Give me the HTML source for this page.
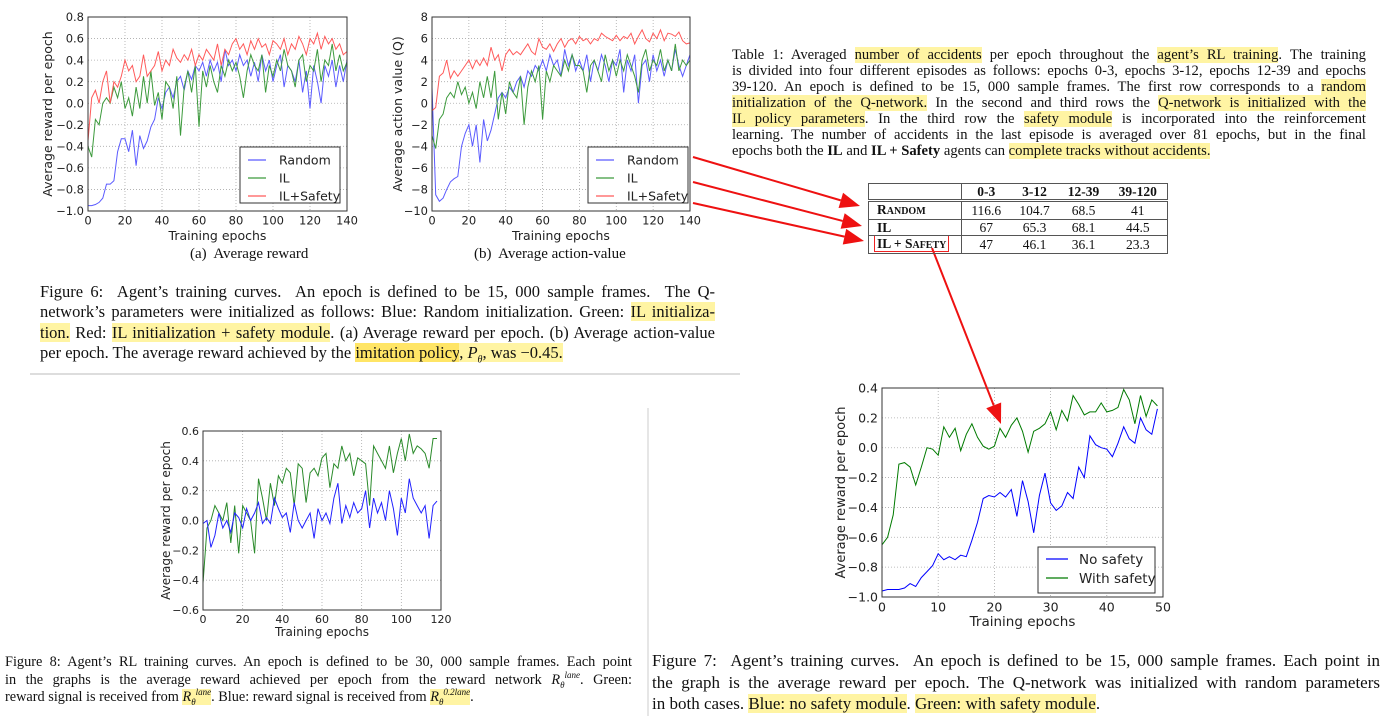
<!DOCTYPE html>
<html><head><meta charset="utf-8">
<style>
body{margin:0;width:1392px;height:727px;background:#fff;position:relative;overflow:hidden;font-family:"Liberation Serif",serif;color:#111}
.cap{position:absolute;font-family:"Liberation Serif",serif}
.cap div{text-align:justify;text-align-last:justify;white-space:nowrap;overflow:visible}
.cap div.last{text-align-last:left}
.cap sub,.cap sup{line-height:0}
.hl{background:#fff4a3}
.hl2{background:#ffe566}
svg text{font-family:"DejaVu Sans",sans-serif;fill:#222}
table{border-collapse:collapse;position:absolute;font-family:"Liberation Serif",serif;font-size:13.5px;table-layout:fixed}
td{padding:0;text-align:center;height:15px;line-height:15px;overflow:hidden;white-space:nowrap}
</style></head><body>
<svg id="s" width="1392" height="727" style="position:absolute;left:0;top:0">
<line x1="30" y1="374" x2="740" y2="374" stroke="#bbb"/>
<line x1="648" y1="408" x2="648" y2="716" stroke="#ccc"/>
</svg>

<div class="cap" style="left:40px;top:282px;width:675px;font-size:16.5px;line-height:20.4px">
<div>Figure 6:&nbsp; Agent’s training curves.&nbsp; An epoch is defined to be 15, 000 sample frames.&nbsp; The Q-</div>
<div>network’s parameters were initialized as follows: Blue: Random initialization. Green: <span class="hl">IL initializa-</span></div>
<div><span class="hl">tion.</span> Red: <span class="hl">IL initialization + safety module</span>. (a) Average reward per epoch. (b) Average action-value</div>
<div class="last">per epoch. The average reward achieved by the <span class="hl2">imitation policy</span><span class="hl">, <i>P<sub style="font-size:10px">θ</sub></i>, was −0.45.</span></div>
</div>
<div class="cap" style="left:190px;top:246px;font-size:15px">(a)&nbsp; Average reward</div>
<div class="cap" style="left:474px;top:246px;font-size:15px">(b)&nbsp; Average action-value</div>

<div class="cap" style="left:732px;top:47px;width:634px;font-size:14.6px;line-height:16px">
<div>Table 1: Averaged <span class="hl">number of accidents</span> per epoch throughout the <span class="hl">agent’s RL training</span>. The training</div>
<div>is divided into four different episodes as follows: epochs 0-3, epochs 3-12, epochs 12-39 and epochs</div>
<div>39-120. An epoch is defined to be 15, 000 sample frames. The first row corresponds to a <span class="hl">random</span></div>
<div><span class="hl">initialization of the Q-network.</span> In the second and third rows the <span class="hl">Q-network is initialized with the</span></div>
<div><span class="hl">IL policy parameters</span>. In the third row the <span class="hl">safety module</span> is incorporated into the reinforcement</div>
<div>learning. The number of accidents in the last episode is averaged over 81 epochs, but in the final</div>
<div class="last">epochs both the <b>IL</b> and <b>IL + Safety</b> agents can <span class="hl">complete tracks without accidents.</span></div>
</div>

<table style="left:868px;top:183px;width:299px;border:1px solid #555">
<colgroup><col style="width:93px"><col style="width:49px"><col style="width:48px"><col style="width:50px"><col style="width:59px"></colgroup>
<tr><td style="border-right:1px solid #555"></td><td><b>0-3</b></td><td><b>3-12</b></td><td><b>12-39</b></td><td><b>39-120</b></td></tr>
</table>
<table style="left:868px;top:201px;width:299px;border:1px solid #555">
<colgroup><col style="width:93px"><col style="width:49px"><col style="width:48px"><col style="width:50px"><col style="width:59px"></colgroup>
<tr style="border-bottom:1px solid #555"><td style="border-right:1px solid #555;text-align:left;padding-left:8px"><b>R<span style="font-size:10px">ANDOM</span></b></td><td>116.6</td><td>104.7</td><td>68.5</td><td>41</td></tr>
<tr style="border-bottom:1px solid #555"><td style="border-right:1px solid #555;text-align:left;padding-left:8px"><b>IL</b></td><td>67</td><td>65.3</td><td>68.1</td><td>44.5</td></tr>
<tr><td style="border-right:1px solid #555;text-align:left;padding-left:5px"><b style="border:1px solid #e22;padding:0 2px">IL + S<span style="font-size:10px">AFETY</span></b></td><td>47</td><td>46.1</td><td>36.1</td><td>23.3</td></tr>
</table>

<div class="cap" style="left:652px;top:650px;width:728px;font-size:17px;line-height:21.5px">
<div>Figure 7:&nbsp; Agent’s training curves.&nbsp; An epoch is defined to be 15, 000 sample frames. Each point in</div>
<div>the graph is the average reward per epoch. The Q-network was initialized with random parameters</div>
<div class="last">in both cases. <span class="hl">Blue: no safety module</span>. <span class="hl">Green: with safety module</span>.</div>
</div>

<div class="cap" style="left:5px;top:654px;width:627px;font-size:14.3px;line-height:17.5px">
<div>Figure 8: Agent’s RL training curves. An epoch is defined to be 30, 000 sample frames. Each point</div>
<div>in the graphs is the average reward achieved per epoch from the reward network <i>R<sub style="font-size:9px">θ</sub><sup style="font-size:9px">lane</sup></i>. Green:</div>
<div class="last">reward signal is received from <span class="hl"><i>R<sub style="font-size:9px">θ</sub><sup style="font-size:9px">lane</sup></i></span>. Blue: reward signal is received from <span class="hl"><i>R<sub style="font-size:9px">θ</sub><sup style="font-size:9px">0.2lane</sup></i></span>.</div>
</div>

<script>
// ---- data ----
const fig6aRandom = [-0.95,-0.95,-0.94,-0.92,-0.88,-0.75,-0.75,-0.72,-0.45,-0.33,-0.33,-0.45,-0.25,-0.58,-0.3,-0.42,-0.35,-0.22,-0.15,0.05,-0.05,0.1,0.15,0.05,0.2,0.25,0.12,0.3,0.22,0.35,0.3,0.38,0.25,0.4,0.3,0.38,0.2,0.5,0.35,0.4,0.3,0.45,0.35,0.4,0.25,0.38,0.2,0.45,0.3,0.4,0.2,0.35,0.45,0.15,0.35,0.3,0.2,0.4,0.1,0.3,-0.05,0.35,0.2,0.0,0.35,0.25,0.4,0.15,0.35,0.2,0.4];
const fig6aIL = [-0.4,-0.5,-0.15,-0.2,0.0,0.05,0.0,0.15,0.05,0.2,-0.05,0.05,-0.12,0.15,-0.05,0.25,0.0,0.3,-0.02,0.1,-0.15,0.2,0.15,-0.05,0.25,-0.3,0.15,0.3,0.1,0.35,-0.22,0.3,0.15,0.35,0.2,0.1,0.35,0.25,0.4,0.3,0.38,0.25,0.05,0.3,0.45,0.35,0.3,0.45,0.1,0.35,0.25,0.4,0.3,0.5,0.35,0.3,0.15,0.4,0.45,0.2,0.35,0.3,0.5,0.2,0.4,0.35,0.55,0.3,0.45,0.3,0.38];
const fig6aSafety = [-0.35,0.05,0.12,0.0,0.2,0.3,0.0,0.2,0.15,0.25,0.4,0.3,0.35,0.2,0.25,0.45,0.25,0.3,0.35,0.48,0.3,0.4,0.35,0.5,0.42,0.38,0.45,0.4,0.5,0.35,0.45,0.4,0.5,0.45,0.4,0.55,0.35,0.5,0.45,0.55,0.6,0.5,0.55,0.45,0.58,0.5,0.6,0.52,0.55,0.45,0.58,0.55,0.5,0.6,0.45,0.55,0.5,0.62,0.55,0.45,0.6,0.55,0.65,0.5,0.62,0.55,0.6,0.5,0.55,0.45,0.48];
const fig6bRandom = [1.5,-8.5,-9.1,-8.8,-8,-7.3,-7,-6.8,-4,-2.8,-2,-4,-2,-5.5,-1.5,-3.5,-2.5,-1,0.5,1,0.5,1.5,1,2,2.5,1.5,3,2.5,3.5,3,4,3,4.5,3.5,4,2.5,5,3.5,4.5,3,4,3,4.5,2,4,3,4.5,3.5,2,4,3.5,5,1,4,3,4.5,0,3.5,4,2,4.5,3,4,2.5,4,3,5,3.5,2.5,3.5,4.5];
const fig6bIL = [-3,-4.2,-1.5,-1,0.5,1,0.5,2,0.8,1.5,0,1,-0.5,2,0.5,2.5,0.5,3,-1.5,1,-1,2,1,0.5,2.5,-2,1.5,3,2,3.5,-1.5,3,2,3.5,3,2.5,4,3,4.5,3.5,3.5,3,1,3.5,4,3,2,4.5,3,4,2.5,4,3,4.5,3.5,2.5,1,4,5,3,4,3.5,5,3,4,3,5.5,3,4,3.5,4];
const fig6bSafety = [-0.7,-0.4,2.5,2.8,4,2.3,3,2.5,3,3.5,4,3.2,4,3.5,4.2,3.5,5.2,4,4.5,3,4.5,5,4.5,4.8,4.5,5,5.5,4.8,4.5,6,5.2,5,5.5,4.8,5.5,6,5.2,5.8,6,5.5,6.2,5.8,6,5.5,6,5.8,6.5,6.2,6,5.8,6.3,5.8,6.2,6,6.5,5.5,6.2,6.8,6,5.7,6.5,6,6.8,5.8,6.5,6.4,6.2,6.6,5.8,5.5,5.6];
const fig7NoSafety = [-0.96,-0.95,-0.95,-0.95,-0.94,-0.91,-0.93,-0.87,-0.83,-0.79,-0.71,-0.75,-0.73,-0.75,-0.72,-0.73,-0.62,-0.5,-0.34,-0.32,-0.33,-0.3,-0.33,-0.28,-0.46,-0.22,-0.36,-0.57,-0.32,-0.17,-0.37,-0.42,-0.39,-0.3,-0.34,-0.13,-0.2,0.08,0.02,0.0,-0.01,-0.06,0.03,0.14,0.06,0.03,0.2,0.12,0.09,0.26];
const fig7WithSafety = [-0.65,-0.6,-0.45,-0.11,-0.1,-0.13,-0.25,-0.13,0.0,-0.01,-0.05,0.14,0.07,0.13,-0.02,0.09,0.16,0.07,0.01,-0.01,0.01,0.13,0.07,0.15,0.2,0.11,-0.03,0.11,0.13,0.16,0.24,0.12,0.25,0.18,0.35,0.29,0.22,0.24,0.24,0.3,0.24,0.25,0.27,0.39,0.32,0.16,0.35,0.21,0.32,0.28];
const fig8Lane = [-0.42,-0.05,0.0,0.1,0.05,0.0,0.12,-0.15,0.1,-0.22,0.1,0.05,0.0,-0.22,0.28,0.15,0.0,0.25,0.1,0.3,0.25,0.35,0.32,0.1,0.38,0.35,0.12,0.32,0.35,0.3,0.42,0.45,0.22,0.38,0.35,0.5,0.4,0.45,0.3,0.42,0.4,0.38,0.1,0.5,0.45,0.4,0.35,0.5,0.32,0.45,0.55,0.4,0.58,0.45,0.5,0.48,0.45,0.35,0.55,0.55];
const fig8Lane02 = [-0.02,0.0,-0.18,-0.1,0.05,-0.05,0.0,-0.08,0.05,0.02,-0.05,0.08,0.0,0.05,0.12,-0.02,0.02,-0.02,0.15,0.08,0.02,0.05,-0.08,0.12,0.0,-0.05,0.0,0.05,-0.12,0.08,0.0,0.05,-0.02,0.15,0.25,-0.02,0.1,0.02,0.12,0.05,0.08,0.2,-0.05,0.15,0.05,0.12,0.0,0.2,0.08,-0.1,0.15,0.05,0.28,0.15,0.1,0.05,0.1,-0.12,0.1,0.13];
const fig6aYTicks = [-1.0,-0.8,-0.6,-0.4,-0.2,0.0,0.2,0.4,0.6,0.8];
const fig6bYTicks = [-10,-8,-6,-4,-2,0,2,4,6,8];
const fig6XTicks = [0,20,40,60,80,100,120,140];
const fig7YTicks = [-1.0,-0.8,-0.6,-0.4,-0.2,0.0,0.2,0.4];
const fig7XTicks = [0,10,20,30,40,50];
const fig8YTicks = [-0.6,-0.4,-0.2,0.0,0.2,0.4,0.6];
const fig8XTicks = [0,20,40,60,80,100,120];

const NS='http://www.w3.org/2000/svg';
const svg=document.getElementById('s');
function mk(tag,attrs,parent){const e=document.createElementNS(NS,tag);for(const k in attrs)e.setAttribute(k,attrs[k]);(parent||svg).appendChild(e);return e;}
function fmtN(v,d){return (v<0?'\u2212':'')+Math.abs(v).toFixed(d);}

function chart(o){
  const g=mk('g',{});
  
  
  const sx=v=>o.L+(v-o.xmin)/(o.xmax-o.xmin)*(o.R-o.L);
  const sy=v=>o.B-(v-o.ymin)/(o.ymax-o.ymin)*(o.B-o.T);
  o.yt.forEach(v=>{
    const y=sy(v);
    const gl=mk('line',{x1:o.L,x2:o.R,y1:y,y2:y,stroke:'#aaa','stroke-dasharray':'1,2','stroke-width':0.8},g);
    
    
    const t=mk('text',{x:o.L-4,y:y+o.fs*0.36,'text-anchor':'end','font-size':o.fs},g);
    t.textContent=fmtN(v,o.yd);
    
    
  });
  o.xt.forEach(v=>{
    const x=sx(v);
    const gl=mk('line',{x1:x,x2:x,y1:o.T,y2:o.B,stroke:'#aaa','stroke-dasharray':'1,2','stroke-width':0.8},g);
    
    
    const t=mk('text',{x:x,y:o.B+o.fs+2,'text-anchor':'middle','font-size':o.fs},g);
    t.textContent=String(v);
    
    
  });
  o.series.forEach(s=>{
    const pts=s.data.map((v,i)=>sx(o.xmin+i*o.step).toFixed(1)+','+sy(v).toFixed(1)).join(' ');
    const p=mk('polyline',{points:pts,fill:'none',stroke:s.color,'stroke-width':1},g);
    
    
  });
  const fr=mk('rect',{x:o.L,y:o.T,width:o.R-o.L,height:o.B-o.T,fill:'none',stroke:'#333','stroke-width':1},g);
  
  
  const xl=mk('text',{x:(o.L+o.R)/2,y:o.xly,'text-anchor':'middle','font-size':o.fs+1},g);
  xl.textContent='Training epochs';
  
  
  const yl=mk('text',{x:0,y:0,'text-anchor':'middle','font-size':o.yfs||(o.fs+1),transform:`translate(${o.ylx},${(o.T+o.B)/2}) rotate(-90)`},g);
  yl.textContent=o.ylab;
  
  
  if(o.leg){
    const lg=o.leg;
    const lr=mk('rect',{x:lg.x,y:lg.y,width:lg.w,height:lg.h,fill:'#fff',stroke:'#333'},g);
    
    
    o.series.forEach((s,i)=>{
      const y=lg.y+lg.first+i*lg.gap;
      const ln=mk('line',{x1:lg.x+lg.lx,x2:lg.x+lg.lx+lg.ll,y1:y,y2:y,stroke:s.color,'stroke-width':1.2},g);
      
      
      const t=mk('text',{x:lg.x+lg.tx,y:y+o.fs*0.38,'font-size':o.fs+1},g);
      t.textContent=s.label;
      
      
    });
  }
}
const cB='#5b5bff',cG='#3c9a3c',cR='#ff5a5a';
chart({name:'chart-average-reward',L:88,R:347,T:17,B:211,xmin:0,xmax:140,step:2,ymin:-1,ymax:0.8,yt:fig6aYTicks,yd:1,xt:fig6XTicks,fs:11.5,xly:240,ylx:52,ylab:'Average reward per epoch',
 series:[{name:'line-random',label:'Random',color:cB,data:fig6aRandom},{name:'line-il',label:'IL',color:cG,data:fig6aIL},{name:'line-il-safety',label:'IL+Safety',color:cR,data:fig6aSafety}],
 leg:{x:240,y:147,w:100,h:56,first:13,gap:18,lx:8,ll:18,tx:39}});
chart({name:'chart-average-action-value',L:432,R:690,T:17,B:211,xmin:0,xmax:140,step:2,ymin:-10,ymax:8,yt:fig6bYTicks,yd:0,xt:fig6XTicks,fs:11.5,xly:240,ylx:402,ylab:'Average action value (Q)',
 series:[{name:'line-random',label:'Random',color:cB,data:fig6bRandom},{name:'line-il',label:'IL',color:cG,data:fig6bIL},{name:'line-il-safety',label:'IL+Safety',color:cR,data:fig6bSafety}],
 leg:{x:588,y:147,w:100,h:56,first:13,gap:18,lx:8,ll:18,tx:39}});
chart({name:'chart-safety-comparison',L:882,R:1163,T:388,B:597,xmin:0,xmax:50,step:1,ymin:-1,ymax:0.4,yt:fig7YTicks,yd:1,xt:fig7XTicks,fs:12.5,yfs:13,xly:626,ylx:845,ylab:'Average reward per epoch',
 series:[{name:'line-no-safety',label:'No safety',color:'#0000ff',data:fig7NoSafety},{name:'line-with-safety',label:'With safety',color:'#007a00',data:fig7WithSafety}],
 leg:{x:1038,y:547,w:117,h:46,first:12,gap:19,lx:8,ll:22,tx:41}});
chart({name:'chart-reward-network',L:203,R:441,T:431,B:610,xmin:0,xmax:120,step:2,ymin:-0.6,ymax:0.6,yt:fig8YTicks,yd:1,xt:fig8XTicks,fs:11,xly:636,ylx:170,ylab:'Average reward per epoch',
 series:[{name:'line-lane',label:'lane',color:'#2a8a2a',data:fig8Lane},{name:'line-lane-02',label:'0.2lane',color:'#2222ff',data:fig8Lane02}]});

// arrows
function arrow(x1,y1,x2,y2){
  const a=Math.atan2(y2-y1,x2-x1),L=20,W=8;
  const bx=x2-L*Math.cos(a),by=y2-L*Math.sin(a);
  const g=mk('g',{});
  
  
  mk('line',{x1:x1,y1:y1,x2:bx,y2:by,stroke:'#ee1111','stroke-width':2},g);
  const px=-Math.sin(a)*W,py=Math.cos(a)*W;
  mk('polygon',{points:`${x2},${y2} ${bx+px},${by+py} ${bx-px},${by-py}`,fill:'#ee1111'},g);
}
arrow(693,157,860,206);
arrow(693,182,862,226);
arrow(693,203,864,241);
arrow(932,248,1001,424);
</script>
</body></html>
